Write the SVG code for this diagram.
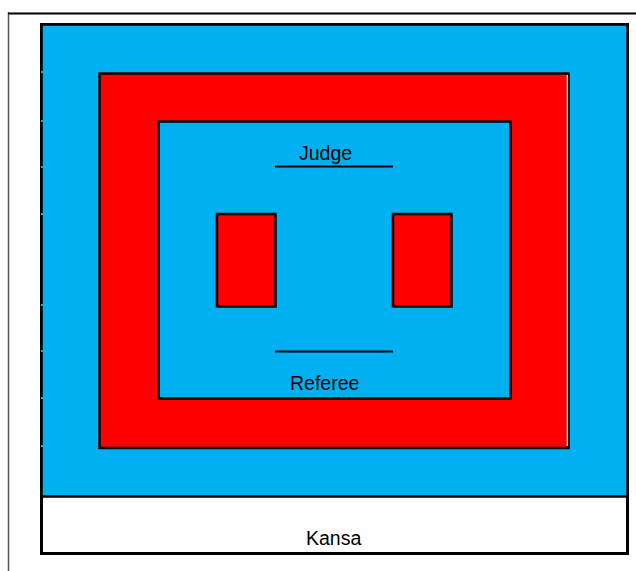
<svg xmlns="http://www.w3.org/2000/svg" width="636" height="571" viewBox="0 0 636 571">
<style>
.blue{fill:#00B0F0;stroke:#000;stroke-width:2.5}
.red{fill:#FF0000;stroke:#000;stroke-width:2.5}
.lbl{font-family:"Liberation Sans",Arial,sans-serif;font-size:19.5px;fill:#000}
.ln{stroke:#000;stroke-width:2;fill:none}
.tick{fill:#00B0F0}
</style>
<rect width="636" height="571" fill="#fff"/>
<g id="frame">
<line x1="8.5" y1="12" x2="8.5" y2="571" stroke="#555" stroke-width="1.5"/>
<line x1="8" y1="13.5" x2="636" y2="13.5" stroke="#000" stroke-width="2"/>
</g>
<g id="kansa">
<rect x="41.5" y="24.5" width="586" height="529" fill="#fff" stroke="#000" stroke-width="3"/>
<rect x="41.5" y="24.5" width="586" height="472" class="blue" stroke-width="3"/>
<text class="lbl" x="306" y="545">Kansa</text>
</g>
<g id="ticks">
<rect class="tick" x="41" y="71" width="3" height="2"/>
<rect class="tick" x="41" y="120" width="3" height="2"/>
<rect class="tick" x="41" y="166" width="3" height="2"/>
<rect class="tick" x="41" y="213" width="3" height="2"/>
<rect class="tick" x="41" y="304" width="3" height="2"/>
<rect class="tick" x="41" y="350" width="3" height="2"/>
<rect class="tick" x="41" y="397" width="3" height="2"/>
<rect class="tick" x="41" y="445" width="3" height="2"/>
</g>
<g id="ring">
<rect x="99.5" y="73.5" width="469" height="374.5" class="red"/>
<line x1="567.3" y1="75" x2="567.3" y2="446" stroke="#fff" stroke-width="1.2"/>
</g>
<g id="court">
<rect x="158.5" y="121.5" width="352" height="277" class="blue" stroke-width="2.5"/>
</g>
<g id="left-box">
<rect x="217" y="214" width="58.5" height="92.5" class="red"/>
</g>
<g id="right-box">
<rect x="393" y="214" width="58.5" height="92.5" class="red"/>
</g>
<g id="judge">
<text class="lbl" x="299" y="159.5">Judge</text>
</g>
<g id="referee">
<text class="lbl" x="290" y="390">Referee</text>
</g>
<g id="connectors">
<line class="ln" x1="275" y1="166.5" x2="393" y2="166.5"/>
<line class="ln" x1="275" y1="351.5" x2="393" y2="351.5"/>
</g>
</svg>
